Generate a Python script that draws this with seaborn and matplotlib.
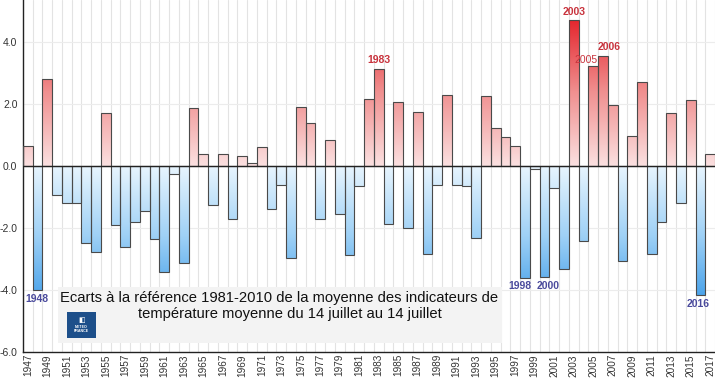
import numpy as np
import pandas as pd
import matplotlib
matplotlib.use("Agg")
import matplotlib.pyplot as plt
from matplotlib.colors import LinearSegmentedColormap
from matplotlib.patches import Rectangle
import seaborn as sns

years = list(range(1947, 2018))
values = [0.65, -4.0, 2.8, -0.95, -1.2, -1.2, -2.48, -2.77, 1.72, -1.89,
          -2.63, -1.82, -1.44, -2.37, -3.41, -0.25, -3.12, 1.88, 0.40, -1.27,
          0.40, -1.70, 0.31, 0.11, 0.62, -1.38, -0.60, -2.97, 1.90, 1.40,
          -1.70, 0.85, -1.56, -2.88, -0.66, 2.16, 3.14, -1.86, 2.05, -1.99,
          1.75, -2.83, -0.60, 2.30, -0.62, -0.65, -2.32, 2.24, 1.21, 0.93,
          0.63, -3.60, -0.11, -3.58, -0.70, -3.32, 4.70, -2.43, 3.21, 3.56,
          1.98, -3.05, 0.98, 2.69, -2.85, -1.82, 1.72, -1.20, 2.12, -4.17,
          0.38]
yticks = [-6.0, -4.0, -2.0, 0.0, 2.0, 4.0]
title_lines = ["Ecarts à la référence 1981-2010 de la moyenne des indicateurs de",
               "température moyenne du 14 juillet au 14 juillet"]

df = pd.DataFrame({"annee": [str(y) for y in years], "ecart": values})

sns.set_style("white")
plt.rcParams['font.family'] = ['Liberation Sans', 'DejaVu Sans']

fig = plt.figure(figsize=(7.15, 3.79), dpi=100)
ax = fig.add_axes([23 / 715, 27 / 379, 692 / 715, 352 / 379])

sns.barplot(data=df, x="annee", y="ecart", ax=ax, width=1.0,
            color="white", edgecolor="#4a4a4a", linewidth=0.8, zorder=3)

YMIN, YMAX = -6.0, 5.35

red_cmap = LinearSegmentedColormap.from_list("r", ["#fbe0e0", "#f08f8f", "#e4222a"])
blue_cmap = LinearSegmentedColormap.from_list("b", ["#e8f5fe", "#9fd1f6", "#3e9ce8"])
grad = np.linspace(0, 1, 256).reshape(-1, 1)

for p, v in zip(ax.patches, values):
    x0, w = p.get_x(), p.get_width()
    if v >= 0:
        im = ax.imshow(grad, extent=[x0, x0 + w, 0, 4.8], origin="lower",
                       cmap=red_cmap, aspect="auto", zorder=2.5)
    else:
        im = ax.imshow(grad[::-1], extent=[x0, x0 + w, -4.5, 0], origin="lower",
                       cmap=blue_cmap, aspect="auto", zorder=2.5)
    im.set_clip_path(p)
    p.set_facecolor("none")

ax.set_ylim(YMIN, YMAX)
ax.set_xlim(-0.5, len(years) - 0.5)

# grid
for i in range(len(years) + 1):
    ax.axvline(i - 0.5, color="#e3e3e3", lw=0.8, zorder=1)
for t in [-4, -2, 2, 4]:
    ax.axhline(t, color="#ececec", lw=0.8, zorder=1)
ax.axhline(0, color="#222222", lw=1.0, zorder=4)

# ticks
ax.set_yticks(yticks)
ax.set_yticklabels([f"{t:.1f}" for t in yticks], fontsize=7.5, color="#333333")
ax.set_xticks(range(0, len(years), 2))
ax.set_xticklabels([str(y) for y in years[::2]], rotation=90, fontsize=7.2,
                   color="#333333")
ax.tick_params(axis="y", length=3, width=0.8, color="#333333", pad=1)
ax.tick_params(axis="x", length=0, pad=1.5)
ax.set_xlabel("")
ax.set_ylabel("")
for s in ["top", "right"]:
    ax.spines[s].set_visible(False)
for s in ["left", "bottom"]:
    ax.spines[s].set_color("#222222")
    ax.spines[s].set_linewidth(1.0)

# annotations
idx = {str(y): i for i, y in enumerate(years)}
red_lab = "#c8323c"
blue_lab = "#4a4a9c"
ax.text(idx["1983"], values[idx["1983"]] + 0.1, "1983", ha="center", va="bottom",
        fontsize=7.5, fontweight="bold", color=red_lab, zorder=6)
ax.text(idx["2003"], values[idx["2003"]] + 0.1, "2003", ha="center", va="bottom",
        fontsize=7.5, fontweight="bold", color=red_lab, zorder=6)
ax.text(idx["2005"] + 0.45, values[idx["2005"]] + 0.05, "2005", ha="right", va="bottom",
        fontsize=7.5, color=red_lab, zorder=6)
ax.text(idx["2006"] + 0.65, values[idx["2006"]] + 0.1, "2006", ha="center", va="bottom",
        fontsize=7.5, fontweight="bold", color=red_lab, zorder=6)
ax.text(idx["1948"] - 0.1, values[idx["1948"]] - 0.12, "1948", ha="center", va="top",
        fontsize=7.5, fontweight="bold", color=blue_lab, zorder=6)
ax.text(idx["1998"] - 0.5, values[idx["1998"]] - 0.12, "1998", ha="center", va="top",
        fontsize=7.5, fontweight="bold", color=blue_lab, zorder=6)
ax.text(idx["2000"] + 0.4, values[idx["2000"]] - 0.12, "2000", ha="center", va="top",
        fontsize=7.5, fontweight="bold", color=blue_lab, zorder=6)
ax.text(idx["2016"] - 0.2, values[idx["2016"]] - 0.12, "2016", ha="center", va="top",
        fontsize=7.5, fontweight="bold", color=blue_lab, zorder=6)

# title box (figure pixel coords)
def fx(px):
    return px / 715

def fy(py):
    return 1 - py / 379

box = Rectangle((fx(58), fy(343)), fx(502) - fx(58), fy(287) - fy(343),
                transform=fig.transFigure, facecolor="#f3f3f3", edgecolor="none",
                zorder=10)
fig.add_artist(box)
fig.text(fx(279), fy(298), title_lines[0], ha="center", va="center",
         fontsize=10.6, color="#111111", zorder=11)
fig.text(fx(290), fy(314), title_lines[1], ha="center", va="center",
         fontsize=10.6, color="#111111", zorder=11)

logo = Rectangle((fx(67), fy(338)), fx(96) - fx(67), fy(312) - fy(338),
                 transform=fig.transFigure, facecolor="#1d4f8a", edgecolor="none",
                 zorder=11)
fig.add_artist(logo)
fig.text(fx(81.5), fy(320), "◧", ha="center", va="center", fontsize=5,
         color="white", zorder=12, family="DejaVu Sans")
fig.text(fx(81.5), fy(329), "METEO\nFRANCE", ha="center", va="center", fontsize=2.6,
         color="white", zorder=12, linespacing=1.0, fontweight="bold")

fig.savefig("out.png", dpi=100)
